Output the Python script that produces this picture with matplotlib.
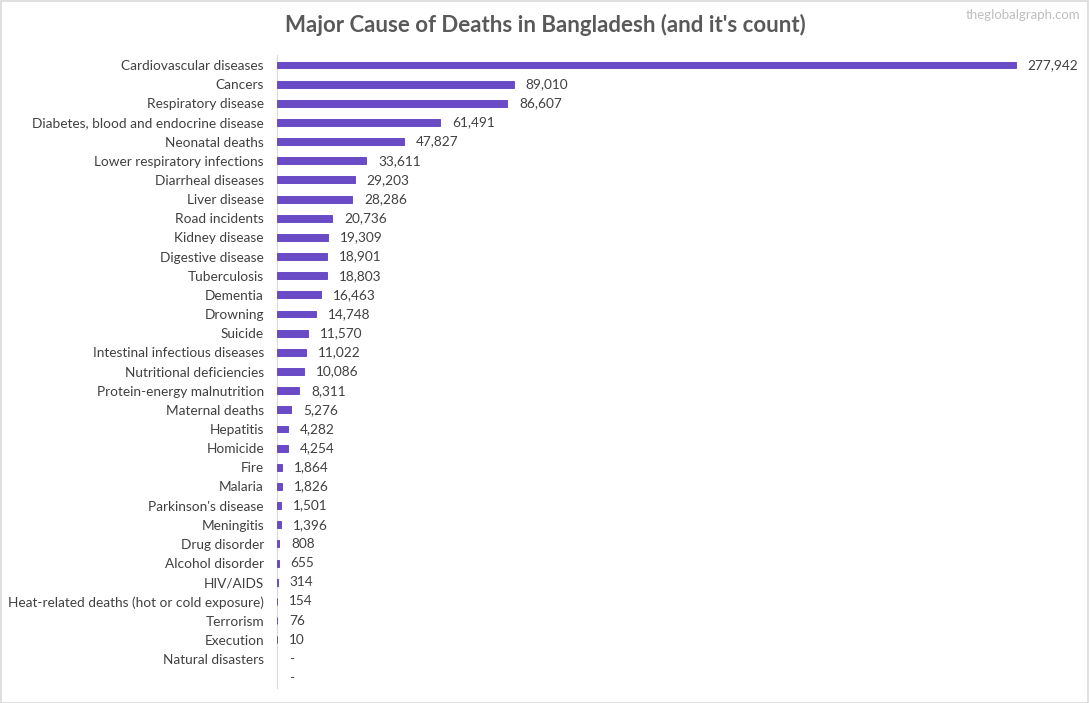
import matplotlib
matplotlib.use('Agg')
import matplotlib.pyplot as plt
from matplotlib.patches import Rectangle

causes = ["Cardiovascular diseases", "Cancers", "Respiratory disease",
          "Diabetes, blood and endocrine disease", "Neonatal deaths",
          "Lower respiratory infections", "Diarrheal diseases", "Liver disease",
          "Road incidents", "Kidney disease", "Digestive disease", "Tuberculosis",
          "Dementia", "Drowning", "Suicide", "Intestinal infectious diseases",
          "Nutritional deficiencies", "Protein-energy malnutrition",
          "Maternal deaths", "Hepatitis", "Homicide", "Fire", "Malaria",
          "Parkinson's disease", "Meningitis", "Drug disorder", "Alcohol disorder",
          "HIV/AIDS", "Heat-related deaths (hot or cold exposure)", "Terrorism",
          "Execution", "Natural disasters", ""]
deaths = [277942, 89010, 86607, 61491, 47827, 33611, 29203, 28286, 20736,
          19309, 18901, 18803, 16463, 14748, 11570, 11022, 10086, 8311, 5276,
          4282, 4254, 1864, 1826, 1501, 1396, 808, 655, 314, 154, 76, 10, 0, 0]

plt.rcParams['font.family'] = ['Lato', 'DejaVu Sans']
txt = '#404040'
bar_col = '#6A4BC6'

size = 1090, 703
dpi = 100.0
fig = plt.figure(figsize=(size[0]/dpi, size[1]/dpi), dpi=dpi)
fig.patch.set_facecolor('white')
fig.patches.append(Rectangle((0.0005, 0.0007), 0.998, 0.998, transform=fig.transFigure,
                             fill=False, edgecolor='#D9D9D9', linewidth=1.2))

ax = fig.add_axes([277/1090, 1 - 687.6/703, (1050-277)/1090, (687.6-55.4)/703])
y = list(range(len(causes)))
# thin edge so the very small counts still show a sliver, like the original
edges = [bar_col if v else 'none' for v in deaths]
ax.barh(y, deaths, height=0.36, color=bar_col, edgecolor=edges, linewidth=0.7,
        zorder=3)
ax.set_ylim(len(causes) - 0.5, -0.5)
ax.set_xlim(0, 773 * 277942 / 739)
ax.set_yticks(y)
ax.set_yticklabels(causes, fontsize=9.8, color=txt)
ax.tick_params(axis='y', length=0, pad=9.4)
ax.set_xticks([])
for s in ['top', 'right', 'bottom']:
    ax.spines[s].set_visible(False)
ax.spines['left'].set_color('#D9D9D9')
ax.spines['left'].set_zorder(1)

for yi, v in zip(y, deaths):
    lab = f"{v:,}" if v else "-"
    ax.annotate(lab, (v, yi), xytext=(8.5, 0), textcoords='offset points',
                va='center', ha='left', fontsize=9.8, color=txt)

fig.text(545/1090, 1 - 25/703, "Major Cause of Deaths in Bangladesh (and it's count)",
         ha='center', va='center', fontsize=16, fontweight='bold', color='#595959')
fig.text(1080/1090, 1 - 15/703, "theglobalgraph.com", ha='right', va='center',
         fontsize=9.5, color='#BFBFBF')

fig.savefig('out.png', dpi=dpi)
